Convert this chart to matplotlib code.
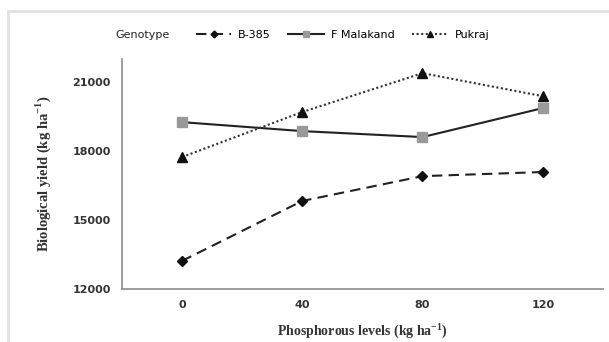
import matplotlib as mpl
mpl.use('Agg')
import matplotlib.pyplot as plt
from matplotlib.patches import Rectangle
import numpy as np

# phosphorous levels (kg/ha) and biological yield per genotype
levels = ["0", "40", "80", "120"]
b385 = [13220, 15830, 16910, 17090]
malakand = [19260, 18870, 18610, 19870]
pukraj = [17740, 19700, 21390, 20390]
yticks = [12000, 15000, 18000, 21000]

fig = plt.figure(figsize=(6.09, 3.42), dpi=100)
ax = fig.add_axes([0.200, 0.155, 0.790, 0.672])

x = np.arange(len(levels))
ax.plot(x, b385, color='#222222', ls=(0, (5, 3)), lw=1.5, marker='D', ms=5,
        mfc='#111111', mec='#111111', label='B-385')
ax.plot(x, malakand, color='#222222', ls='-', lw=1.5, marker='s', ms=7,
        mfc='#999999', mec='#999999', label='F Malakand')
ax.plot(x, pukraj, color='#333333', ls=(0, (1, 1.2)), lw=1.5, marker='^', ms=7,
        mfc='#111111', mec='#111111', label='Pukraj')

ax.set_xlim(-0.5, len(levels) - 0.5)
ax.set_ylim(12000, 22000)
ax.set_xticks(x)
ax.set_xticklabels(levels)
ax.set_yticks(yticks)
ax.tick_params(length=0, labelsize=8, colors='#333333', pad=8)
for lab in ax.get_xticklabels() + ax.get_yticklabels():
    lab.set_fontweight('bold')

for s in ['top', 'right']:
    ax.spines[s].set_visible(False)
for s in ['left', 'bottom']:
    ax.spines[s].set_color('#8c8c8c')
    ax.spines[s].set_linewidth(1.2)

ax.set_ylabel('Biological yield (kg ha$^{\\mathregular{-1}}$)', family='Liberation Serif',
              fontweight='bold', fontsize=10.5, color='#333333', labelpad=14)
ax.set_xlabel('Phosphorous levels (kg ha$^{\\mathregular{-1}}$)', family='Liberation Serif',
              fontweight='bold', fontsize=10, color='#333333', labelpad=8)

fig.text(0.189, 0.897, 'Genotype', fontsize=8, color='#222222', va='center')
fig.legend(loc='center left', bbox_to_anchor=(0.305, 0.897), ncol=3, frameon=False,
           fontsize=8, handlelength=3.2, columnspacing=1.6, handletextpad=0.6,
           markerscale=0.7)

# light frame around the chart area
fig.patches.append(Rectangle((8 / 609, -0.1), 1.2, (342 - 11) / 342 + 0.1,
                             transform=fig.transFigure, fill=False,
                             ec='#e2e2e2', lw=2))

fig.savefig('out.png', dpi=100)
